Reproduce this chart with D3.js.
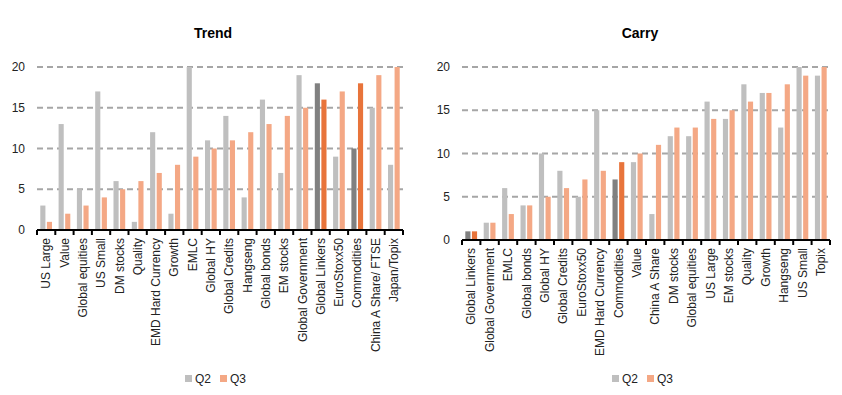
<!DOCTYPE html>
<html>
<head>
<meta charset="utf-8">
<script src="https://cdn.jsdelivr.net/npm/d3@7"></script>
<style>
  body { margin: 0; background: #fff; }
  svg { display: block; font-family: "Liberation Sans", Arial, sans-serif; }
</style>
</head>
<body>
<svg id="chart" width="842" height="395"></svg>
<script>
// Trend ranking
const trendCats = ["US Large", "Value", "Global equities", "US Small", "DM stocks", "Quality",
  "EMD Hard Currency", "Growth", "EMLC", "Global HY", "Global Credits", "Hangseng",
  "Global bonds", "EM stocks", "Global Government", "Global Linkers", "EuroStoxx50",
  "Commodities", "China A Share/ FTSE", "Japan/Topix"];
const trendQ2 = [3, 13, 5, 17, 6, 1, 12, 2, 20, 11, 14, 4, 16, 7, 19, 18, 9, 10, 15, 8];
const trendQ3 = [1, 2, 3, 4, 5, 6, 7, 8, 9, 10, 11, 12, 13, 14, 15, 16, 17, 18, 19, 20];

// Carry ranking
const carryCats = ["Global Linkers", "Global Government", "EMLC", "Global bonds", "Global HY",
  "Global Credits", "EuroStoxx50", "EMD Hard Currency", "Commodities", "Value",
  "China A Share", "DM stocks", "Global equities", "US Large", "EM stocks", "Quality",
  "Growth", "Hangseng", "US Small", "Topix"];
const carryQ2 = [1, 2, 6, 4, 10, 8, 5, 15, 7, 9, 3, 12, 12, 16, 14, 18, 17, 13, 20, 19];
const carryQ3 = [1, 2, 3, 4, 5, 6, 7, 8, 9, 10, 11, 13, 13, 14, 15, 16, 17, 18, 19, 20];

const series = ["Q2", "Q3"];
const highlighted = ["Global Linkers", "Commodities"];
const yTicks = [0, 5, 10, 15, 20];

const colors = { Q2: "#bfbfbf", Q3: "#f4a885" };
const hiColors = { Q2: "#808080", Q3: "#e8743b" };

const svg = d3.select("#chart");

function drawPanel(opt) {
  const g = svg.append("g");
  const x = d3.scaleBand().domain(opt.cats).range([opt.x0, opt.x1]).paddingInner(0).paddingOuter(0);
  const y = d3.scaleLinear().domain([0, 20]).range([opt.y0, opt.yTop]);
  const xs = d3.scaleBand().domain(series).range([0, x.bandwidth()]).paddingInner(0.22).paddingOuter(0.5);

  // title
  g.append("text")
    .attr("x", opt.titleX).attr("y", 38)
    .attr("text-anchor", "middle")
    .attr("font-size", 14).attr("font-weight", "bold").attr("fill", "#000")
    .text(opt.title);

  // grid lines (behind bars)
  g.append("g").selectAll("line").data(yTicks.filter(t => t > 0)).join("line")
    .attr("x1", opt.x0).attr("x2", opt.x1)
    .attr("y1", d => y(d)).attr("y2", d => y(d))
    .attr("stroke", "#a6a6a6").attr("stroke-width", 2).attr("stroke-dasharray", "6,4");

  // y labels
  g.append("g").selectAll("text").data(yTicks).join("text")
    .attr("x", opt.x0 - 12).attr("y", d => y(d)).attr("dy", "0.35em")
    .attr("text-anchor", "end").attr("font-size", 12).attr("fill", "#222")
    .text(d => d);

  // bars
  const rows = opt.cats.map((c, i) => ({ cat: c, Q2: opt.q2[i], Q3: opt.q3[i] }));
  g.append("g").selectAll("g").data(rows).join("g")
    .attr("transform", d => `translate(${x(d.cat)},0)`)
    .selectAll("rect").data(d => series.map(s => ({ s, v: d[s], hi: highlighted.includes(d.cat) })))
    .join("rect")
    .attr("x", d => xs(d.s)).attr("width", xs.bandwidth())
    .attr("y", d => y(d.v)).attr("height", d => opt.y0 - y(d.v))
    .attr("fill", d => d.hi ? hiColors[d.s] : colors[d.s]);

  // x axis
  const axis = g.append("g").attr("transform", `translate(0,${opt.y0})`);
  axis.append("line").attr("x1", opt.x0).attr("x2", opt.x1)
    .attr("stroke", "#000").attr("stroke-width", 2);
  const edges = opt.cats.map(c => x(c)).concat([opt.x1]);
  axis.selectAll("line.tick").data(edges).join("line").attr("class", "tick")
    .attr("x1", d => d).attr("x2", d => d).attr("y1", 0).attr("y2", 5)
    .attr("stroke", "#000").attr("stroke-width", 2);
  axis.selectAll("text").data(opt.cats).join("text")
    .attr("transform", d => `translate(${x(d) + x.bandwidth() / 2},8) rotate(-90)`)
    .attr("text-anchor", "end").attr("dy", "0.35em")
    .attr("font-size", 12).attr("fill", "#222")
    .text(d => d);

  // legend
  const lg = g.append("g").attr("transform", `translate(${opt.legendX},379)`);
  series.forEach((s, i) => {
    lg.append("rect").attr("x", i * 35).attr("y", -4).attr("width", 7).attr("height", 7)
      .attr("fill", colors[s]);
    lg.append("text").attr("x", i * 35 + 10).attr("y", 0).attr("dy", "0.35em")
      .attr("font-size", 12).attr("fill", "#222").text(s);
  });
}

drawPanel({ title: "Trend", titleX: 213, cats: trendCats, q2: trendQ2, q3: trendQ3,
  x0: 37, x1: 403, y0: 230, yTop: 67, legendX: 185 });
drawPanel({ title: "Carry", titleX: 640, cats: carryCats, q2: carryQ2, q3: carryQ3,
  x0: 462, x1: 830, y0: 240, yTop: 67, legendX: 612 });
</script>
</body>
</html>
